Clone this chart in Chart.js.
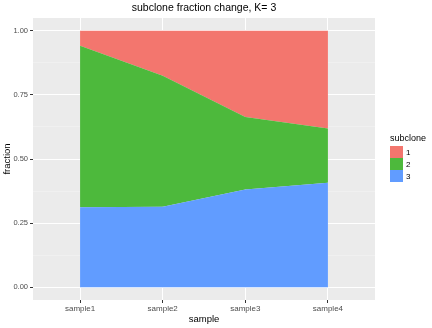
<!DOCTYPE html>
<html>
<head>
<meta charset="utf-8">
<script src="https://cdn.jsdelivr.net/npm/chart.js@4"></script>
<style>
  html, body { margin: 0; padding: 0; background: #fff; }
  #wrap { width: 432px; height: 328px; }
</style>
</head>
<body>
<div id="wrap"><canvas id="chart"></canvas></div>
<script>
// --- data ---
const samples = ['sample1', 'sample2', 'sample3', 'sample4'];
const subclones = ['1', '2', '3'];
const frac1 = [0.058, 0.175, 0.336, 0.381];
const frac2 = [0.630, 0.511, 0.283, 0.212];
const frac3 = [0.312, 0.314, 0.381, 0.407];
const yTicks = [0, 0.125, 0.25, 0.375, 0.5, 0.625, 0.75, 0.875, 1];
const colors = { '1': '#F3766E', '2': '#4DB93C', '3': '#619CFF' };

const FONT = "'Liberation Sans', Arial, sans-serif";

function pts(arr) {
  return arr.map((v, i) => ({ x: i + 1, y: v }));
}

function isMajor(v) {
  return Math.abs(v * 4 - Math.round(v * 4)) < 1e-9;
}

// stacking order: subclone 3 at the bottom, 1 on top
const datasets = [
  { label: '3', data: pts(frac3), fill: 'origin' },
  { label: '2', data: pts(frac2), fill: '-1' },
  { label: '1', data: pts(frac1), fill: '-1' }
].map(d => Object.assign(d, {
  backgroundColor: colors[d.label],
  borderWidth: 0,
  pointRadius: 0,
  tension: 0
}));

// grey ggplot panel
const panelBg = {
  id: 'panelBg',
  beforeDraw(chart) {
    const a = chart.chartArea, c = chart.ctx;
    c.save();
    c.fillStyle = '#EBEBEB';
    c.fillRect(a.left, a.top, a.right - a.left, a.bottom - a.top);
    c.restore();
  }
};

// title centred on the panel, plus the legend on the right
const extras = {
  id: 'extras',
  afterDraw(chart) {
    const a = chart.chartArea, c = chart.ctx;
    c.save();
    c.fillStyle = '#000';
    c.font = '10.5px ' + FONT;
    c.textAlign = 'center';
    c.textBaseline = 'middle';
    c.fillText('subclone fraction change, K= 3', (a.left + a.right) / 2, 8);

    c.textAlign = 'left';
    c.font = '9px ' + FONT;
    c.fillText('subclone', 390, 139);
    subclones.forEach((s, i) => {
      const y = 146 + i * 12;
      c.fillStyle = colors[s];
      c.fillRect(390, y, 13, 12);
      c.fillStyle = '#000';
      c.font = '8px ' + FONT;
      c.fillText(s, 406, y + 6.5);
    });
    c.restore();
  }
};

new Chart(document.getElementById('chart'), {
  type: 'line',
  data: { datasets },
  plugins: [panelBg, extras],
  options: {
    responsive: true,
    maintainAspectRatio: false,
    animation: false,
    layout: { padding: { top: 18, right: 57, left: 0, bottom: 0 } },
    plugins: {
      legend: { display: false },
      tooltip: { enabled: false }
    },
    scales: {
      x: {
        type: 'linear',
        min: 0.43,
        max: 4.57,
        afterBuildTicks: s => { s.ticks = samples.map((_, i) => ({ value: i + 1 })); },
        afterFit: s => { s.height = 28; },
        ticks: {
          callback: v => samples[v - 1],
          color: '#4D4D4D',
          font: { family: FONT, size: 8 },
          padding: 1,
          maxRotation: 0,
          autoSkip: false
        },
        grid: { color: '#FFFFFF', lineWidth: 1, tickLength: 3, tickColor: '#333333' },
        border: { display: false },
        title: {
          display: true,
          text: 'sample',
          color: '#000',
          font: { family: FONT, size: 9.5 },
          padding: { top: 0, bottom: 3 }
        }
      },
      y: {
        type: 'linear',
        stacked: true,
        min: -0.05,
        max: 1.05,
        afterBuildTicks: s => { s.ticks = yTicks.map(v => ({ value: v })); },
        afterFit: s => { s.width = 33; },
        ticks: {
          callback: v => (isMajor(v) ? v.toFixed(2) : ''),
          color: '#4D4D4D',
          font: { family: FONT, size: 7.5 },
          padding: 2,
          autoSkip: false
        },
        grid: {
          color: c => (c.tick && isMajor(c.tick.value) ? '#FFFFFF' : '#F4F4F4'),
          lineWidth: c => (c.tick && isMajor(c.tick.value) ? 1 : 0.6),
          tickLength: 3,
          tickColor: c => (c.tick && isMajor(c.tick.value) ? '#333333' : 'rgba(0,0,0,0)')
        },
        border: { display: false },
        title: {
          display: true,
          text: 'fraction',
          color: '#000',
          font: { family: FONT, size: 9.5 },
          padding: { top: 2, bottom: 0 }
        }
      }
    }
  }
});
</script>
</body>
</html>
